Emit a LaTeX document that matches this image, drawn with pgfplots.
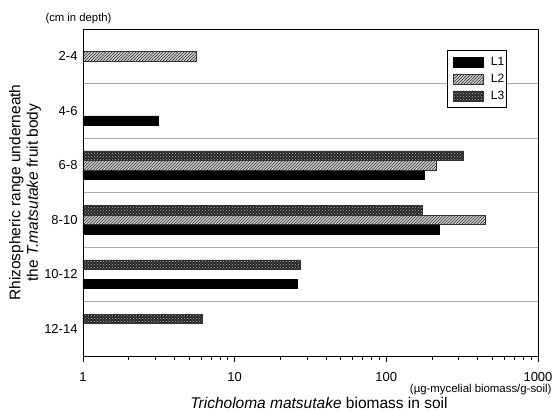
\documentclass[border=0pt]{standalone}
\usepackage{pgfplots}
\pgfplotsset{compat=1.18}
\usepackage{fontspec}
\setmainfont{Liberation Sans}
\usetikzlibrary{patterns}
\begin{document}
\begin{tikzpicture}
\begin{axis}[
  at={(0,0)}, anchor=south west,
  scale only axis, width=455pt, height=327pt,
  clip=false,
  xbar, xmode=log, xmin=1, xmax=1000,
  ymin=0.5, ymax=6.5,
  bar width=0.17,
  axis line style={black, line width=0.9pt},
  xtick={1,10,100,1000}, xticklabels={1,10,100,1000},
  minor xtick={2,3,4,5,6,7,8,9,20,30,40,50,60,70,80,90,200,300,400,500,600,700,800,900},
  xtick pos=bottom, tick align=outside,
  major tick length=6pt, minor tick length=4pt,
  x tick style={draw=black, line width=0.7pt},
  xticklabel style={font=\fontsize{13}{15}\selectfont, yshift=-7pt},
  ytick={1,2,3,4,5,6},
  yticklabels={12-14,10-12,8-10,6-8,4-6,2-4},
  yticklabel style={font=\fontsize{13}{15}\selectfont, xshift=4pt},
  ytick pos=left,
  y tick style={draw=none},
  extra y ticks={1.5,2.5,3.5,4.5,5.5},
  extra y tick labels={},
  extra y tick style={grid=major, major tick length=11pt,
    tick style={draw=gray!70, line width=0.8pt},
    major grid style={gray!70, line width=0.8pt}},
  xlabel={\textit{Tricholoma matsutake} biomass in soil},
  xlabel style={font=\fontsize{15.5}{18}\selectfont, at={(axis description cs:0.5,0)}, anchor=base, xshift=8.5pt, yshift=-52pt},
  ylabel={Rhizospheric range underneath\\the \textit{T.matsutake} fruit body},
  ylabel style={font=\fontsize{15.5}{17.5}\selectfont, align=center, at={(axis description cs:0,0.5)}, anchor=center, yshift=58pt},
  legend style={at={(rel axis cs:0.8,0.936)}, anchor=north west, draw=black, line width=0.8pt,
    font=\fontsize{12}{13}\selectfont, row sep=5pt, inner xsep=0pt, inner ysep=6pt,
    nodes={inner xsep=2pt, inner ysep=1pt}},
  legend cell align=left,
  legend image code/.code={\path (-3pt,0); \draw[#1, line width=0.5pt] (3pt,-5pt) rectangle (33pt,5pt); \path (38pt,0);},
]
\addplot[bar shift=-0.18, fill=black, draw=black, line width=0.5pt]
  coordinates {(3.12,5) (179,4) (222,3) (25.9,2)};
\addplot[bar shift=0, fill=gray!40, draw=black!80, line width=0.5pt,
  postaction={pattern=north east lines, pattern color=black!80}]
  coordinates {(5.56,6) (212,4) (447,3)};
\addplot[bar shift=0.18, fill=black!85, draw=black!80, line width=0.5pt,
  postaction={pattern=crosshatch dots, pattern color=gray!60}]
  coordinates {(321,4) (173,3) (26.9,2) (6.1,1)};
\legend{L1,L2,L3}
\draw[black, line width=0.9pt] (rel axis cs:0,0) -- (rel axis cs:0,1);
\node[anchor=east, font=\fontsize{11.4}{13}\selectfont] at (rel axis cs:1,0) [xshift=17pt, yshift=-34pt] {(µg-mycelial biomass/g-soil)};
\node[anchor=west, font=\fontsize{11.3}{13}\selectfont] at (rel axis cs:0,1) [xshift=-41pt, yshift=10pt] {(cm in depth)};
\end{axis}
\pgfresetboundingbox
\path[use as bounding box] (-83pt,-54pt) rectangle (474pt,356pt);
\end{tikzpicture}
\end{document}
